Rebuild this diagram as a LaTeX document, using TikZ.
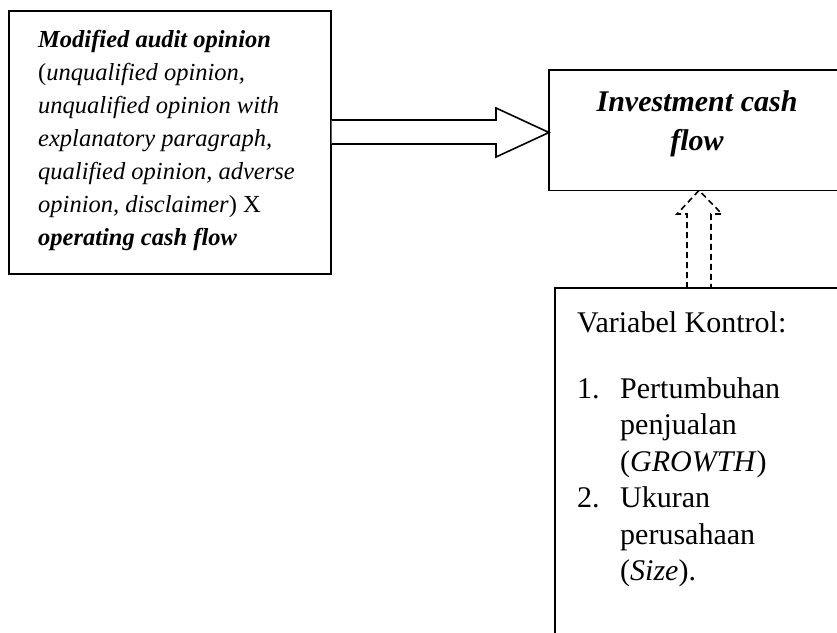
\documentclass[tikz,border=0pt]{standalone}
\usepackage{fontspec}
\setmainfont{Liberation Serif}
\usetikzlibrary{calc}
\begin{document}
\begin{tikzpicture}[x=1pt,y=-1pt,
  boxline/.style={line width=1.6pt, draw=black},
  hollowarrow/.style={line width=1.6pt, draw=black, fill=white, line join=miter},
  dasharrow/.style={line width=1.6pt, draw=black, dash pattern=on 6pt off 4pt},
  lefttext/.style={anchor=north west, inner sep=0pt, align=left, font=\fontsize{24.5}{33}\selectfont},
  tgtfont/.style={inner sep=0pt, align=center, font=\fontsize{30}{39}\selectfont\bfseries\itshape},
  ctrltext/.style={anchor=north west, inner sep=0pt, align=left, font=\fontsize{30}{36.5}\selectfont}
]
\useasboundingbox (0,0) rectangle (837,632);
\clip (0,0) rectangle (837,632);
\fill[white] (0,0) rectangle (837,632);

% left box
\node[boxline, minimum width=322pt, minimum height=263pt, anchor=north west, inner sep=0pt] (src) at (8,10) {};
\node[lefttext] (srctext) at (38,30) {\textbf{\textit{Modified audit opinion}}\\
(\textit{unqualified opinion,}\\
\textit{unqualified opinion with}\\
\textit{explanatory paragraph,}\\
\textit{qualified opinion, adverse}\\
\textit{opinion, disclaimer}) X\\
\textbf{\textit{operating cash flow}}};

% target box (open on the right)
\node[minimum width=296pt, minimum height=120pt, anchor=north west, inner sep=0pt] (tgt) at (549,70) {};
\draw[boxline] (tgt.north east) -- (tgt.north west) -- (tgt.south west) -- (tgt.south east);
\node[tgtfont] (tgttext) at (697,124) {Investment cash\\ flow};

% control box (open on right and bottom)
\node[minimum width=300pt, minimum height=360pt, anchor=north west, inner sep=0pt] (ctrl) at (555,288) {};
\draw[boxline] (ctrl.north east) -- (ctrl.north west) -- (ctrl.south west);
\node[ctrltext] (ctrltxt) at (577,311) {Variabel Kontrol:\\[29.5pt]
\makebox[43pt][l]{1.}Pertumbuhan\\
\hspace*{43pt}penjualan\\
\hspace*{43pt}(\textit{GROWTH})\\
\makebox[43pt][l]{2.}Ukuran\\
\hspace*{43pt}perusahaan\\
\hspace*{43pt}(\textit{Size}).};

% hollow block arrow from src to tgt
\draw[hollowarrow] (src.east |- 0,120) -- (496,120) -- (496,108) -- (tgt.west |- 0,132.5) -- (496,157) -- (496,144) -- (src.east |- 0,144);

% dashed hollow arrow from ctrl to tgt
\draw[dasharrow] (687,0 |- ctrl.north) -- (687,214) -- (677,214) -- (699,0 |- tgt.south) -- (722,214) -- (711,214) -- (711,0 |- ctrl.north);
\end{tikzpicture}
\end{document}
